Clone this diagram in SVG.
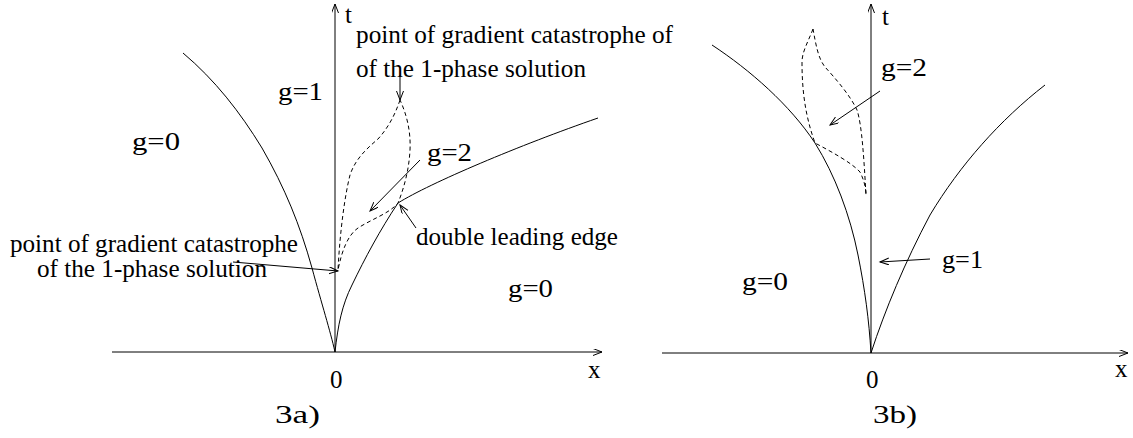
<svg xmlns="http://www.w3.org/2000/svg" width="1133" height="438" viewBox="0 0 1133 438">
<style>
.ln{fill:none;stroke:#000;stroke-width:1}
.ds{fill:none;stroke:#000;stroke-width:1;stroke-dasharray:4 3}
.ar{fill:none;stroke:#000;stroke-width:1;marker-end:url(#ah)}
.tx{font-size:25px;fill:#000}
</style>
<defs>
<marker id="ah" markerUnits="userSpaceOnUse" markerWidth="12" markerHeight="10" refX="9" refY="3.5" orient="auto">
<path d="M0,0 L9,3.5 L0,7" fill="none" stroke="#000" stroke-width="1"/>
</marker>
</defs>
<rect width="1133" height="438" fill="#fff"/>

<g id="panel-a">
  <g id="axes-a">
    <line class="ar" x1="112" y1="352" x2="602" y2="352"/>
    <line class="ar" x1="335" y1="352" x2="335" y2="4"/>
  </g>
  <g id="curves-a">
    <path class="ln" d="M183,53 C215,80 240,112 262,148 C285,188 300,225 312,268 C322,305 330,330 335,352"/>
    <path class="ln" d="M335,352 C338,325 342,305 352,285 C365,258 380,230 398,203"/>
    <path class="ln" d="M398,203 C430,183 520,145 598,118"/>
    <path class="ds" d="M400,100 C395,115 388,128 378,139 C365,150 355,160 350,175 C345,195 340,230 338,270 C342,250 348,235 358,228 C372,219 390,213 398,203 C404,188 409,170 410,150 C411,130 406,113 400,100 Z"/>
  </g>
  <g id="connectors-a">
    <line class="ar" x1="400" y1="75" x2="400" y2="100"/>
    <line class="ar" x1="420" y1="160" x2="370" y2="211"/>
    <line class="ar" x1="233" y1="262" x2="338" y2="271"/>
    <line class="ar" x1="416" y1="228" x2="400" y2="205"/>
  </g>
  <g id="labels-a" font-family="'Liberation Serif', 'DejaVu Serif', serif">
    <text class="tx" x="345" y="23">t</text>
    <text class="tx" x="356" y="43" textLength="317" lengthAdjust="spacingAndGlyphs">point of gradient catastrophe of</text>
    <text class="tx" x="356" y="77" textLength="230" lengthAdjust="spacingAndGlyphs">of the 1-phase solution</text>
    <text class="tx" x="278" y="100" textLength="45" lengthAdjust="spacingAndGlyphs">g=1</text>
    <text class="tx" x="132" y="150" textLength="48" lengthAdjust="spacingAndGlyphs">g=0</text>
    <text class="tx" x="427" y="161" textLength="45" lengthAdjust="spacingAndGlyphs">g=2</text>
    <text class="tx" x="416" y="245" textLength="202" lengthAdjust="spacingAndGlyphs">double leading edge</text>
    <text class="tx" x="10" y="252" textLength="288" lengthAdjust="spacingAndGlyphs">point of gradient catastrophe</text>
    <text class="tx" x="37" y="277" textLength="230" lengthAdjust="spacingAndGlyphs">of the 1-phase solution</text>
    <text class="tx" x="508" y="297" textLength="45" lengthAdjust="spacingAndGlyphs">g=0</text>
    <text class="tx" x="330" y="388">0</text>
    <text class="tx" x="588" y="378">x</text>
    <text class="tx" x="275" y="423" textLength="45" lengthAdjust="spacingAndGlyphs">3a)</text>
  </g>
</g>

<g id="panel-b">
  <g id="axes-b">
    <line class="ar" x1="662" y1="353" x2="1128" y2="353"/>
    <line class="ar" x1="871" y1="353" x2="871" y2="4"/>
  </g>
  <g id="curves-b">
    <path class="ln" d="M712,45 C750,70 790,105 815,143 C835,175 850,215 858,255 C865,290 869,320 871,353"/>
    <path class="ln" d="M871,353 C885,310 905,262 930,215 C960,165 1000,120 1045,85"/>
    <path class="ds" d="M813,29 C808,42 802,52 802,62 C802,90 805,115 815,143 C832,152 852,163 860,172 C864,180 866,188 866,195 C864,160 862,125 857,110 C850,95 835,78 825,67 C818,58 816,45 813,29 Z"/>
  </g>
  <g id="connectors-b">
    <line class="ar" x1="880" y1="91" x2="830" y2="125"/>
    <line class="ar" x1="930" y1="259" x2="880" y2="262"/>
  </g>
  <g id="labels-b" font-family="'Liberation Serif', 'DejaVu Serif', serif">
    <text class="tx" x="882" y="25">t</text>
    <text class="tx" x="881" y="76" textLength="46" lengthAdjust="spacingAndGlyphs">g=2</text>
    <text class="tx" x="942" y="268" textLength="41" lengthAdjust="spacingAndGlyphs">g=1</text>
    <text class="tx" x="742" y="290" textLength="46" lengthAdjust="spacingAndGlyphs">g=0</text>
    <text class="tx" x="866" y="388">0</text>
    <text class="tx" x="1115" y="377">x</text>
    <text class="tx" x="873" y="423" textLength="44" lengthAdjust="spacingAndGlyphs">3b)</text>
  </g>
</g>
</svg>
